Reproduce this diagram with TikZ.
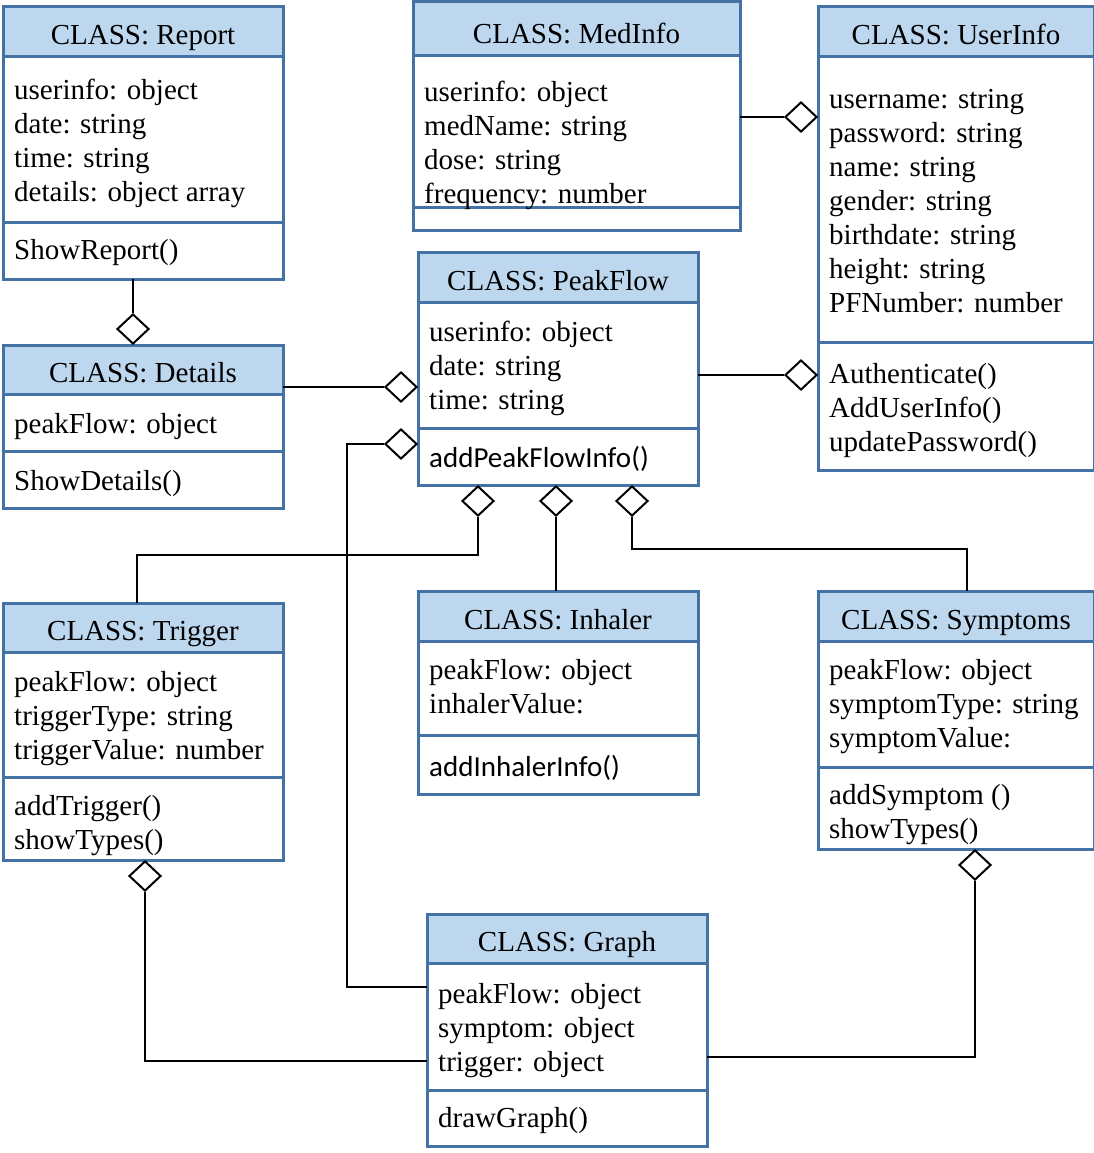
\documentclass[tikz,border=0pt]{standalone}
\usepackage{fontspec}
\setmainfont{Liberation Serif}
\newfontfamily\calibri{Carlito}
\usepackage{tikz}
\usetikzlibrary{calc,positioning,fit,shapes.geometric}
\definecolor{umlBorder}{RGB}{68,114,164}
\definecolor{umlHead}{RGB}{189,215,238}

\tikzset{
  classbox/.style={draw=umlBorder, line width=3pt, inner sep=0pt, outer sep=0pt},
  divider/.style={umlBorder, line width=3pt},
  titletext/.style={anchor=base, inner sep=0pt},
  membtext/.style={anchor=base west, inner sep=0pt, align=left},
  link/.style={black, line width=1.3pt},
  agg/.style={diamond, draw=black, fill=white, line width=2pt, inner sep=0pt,
    minimum width=32pt, minimum height=30pt},
}

% name, left, top, right, bottom, header line, middle line, title
\newcommand{\umlclass}[8]{%
  \fill[umlHead] (#2,#3) rectangle (#4,#6);
  \draw[divider] (#2,#6) -- (#4,#6) (#2,#7) -- (#4,#7);
  \node[classbox, fit={(#2,#3) (#4,#5)}] (#1) {};
  \node[titletext] (#1-t) at ({(#2+#4)/2},{#6-12}) {CLASS: #8};
}

\begin{document}
\begin{tikzpicture}[x=1pt,y=-1pt,font=\fontsize{29}{34}\selectfont]
    \useasboundingbox (0,0) rectangle (1094,1153);

    % class boxes
    \umlclass{report}{3}{7}{283}{279}{57}{222}{Report}
    \umlclass{medinfo}{413}{2}{740}{230}{56}{207}{MedInfo}
    \umlclass{userinfo}{818}{7}{1094}{470}{57}{342}{UserInfo}
    \umlclass{details}{3}{345}{283}{508}{394}{451}{Details}
    \umlclass{peakflow}{418}{252}{698}{485}{302}{428}{PeakFlow}
    \umlclass{trigger}{3}{603}{283}{860}{652}{777}{Trigger}
    \umlclass{inhaler}{418}{591}{698}{794}{641}{735}{Inhaler}
    \umlclass{symptoms}{818}{591}{1094}{849}{641}{767}{Symptoms}
    \umlclass{graphbox}{427}{914}{707}{1146}{963}{1090}{Graph}

    % attributes and methods (placed at the baseline of the last line)
    \node[membtext] (report-a) at (14,201) {userinfo: object\\date: string\\time: string\\details: object array};
    \node[membtext] (report-m) at (14,259) {ShowReport()};
    \node[membtext] (medinfo-a) at (424,203) {userinfo: object\\medName: string\\dose: string\\frequency: number};
    \node[membtext] (userinfo-a) at (829,312) {username: string\\password: string\\name: string\\gender: string\\birthdate: string\\height: string\\PFNumber: number};
    \node[membtext] (userinfo-m) at (829,451) {Authenticate()\\AddUserInfo()\\updatePassword()};
    \node[membtext] (details-a) at (14,433) {peakFlow: object};
    \node[membtext] (details-m) at (14,490) {ShowDetails()};
    \node[membtext] (peakflow-a) at (429,409) {userinfo: object\\date: string\\time: string};
    \node[membtext] (peakflow-m) at (429,467) {\calibri addPeakFlowInfo()};
    \node[membtext] (trigger-a) at (14,759) {peakFlow: object\\triggerType: string\\triggerValue: number};
    \node[membtext] (trigger-m) at (14,849) {addTrigger()\\showTypes()};
    \node[membtext] (inhaler-a) at (429,713) {peakFlow: object\\inhalerValue:};
    \node[membtext] (inhaler-m) at (429,776) {\calibri addInhalerInfo()};
    \node[membtext] (symptoms-a) at (829,747) {peakFlow: object\\symptomType: string\\symptomValue:};
    \node[membtext] (symptoms-m) at (829,838) {addSymptom ()\\showTypes()};
    \node[membtext] (graphbox-a) at (438,1071) {peakFlow: object\\symptom: object\\trigger: object};
    \node[membtext] (graphbox-m) at (438,1127) {drawGraph()};

    % aggregation diamonds
    \node[agg, anchor=south] (agg-report) at (133,345) {};
    \node[agg, anchor=east] (agg-medinfo) at (818,117) {};
    \node[agg, anchor=east] (agg-details) at (418,387) {};
    \node[agg, anchor=east] (agg-peakflow) at (818,375) {};
    \node[agg, anchor=east] (agg-graph) at (418,444) {};
    \node[agg, anchor=north] (agg-trigger) at (478,485) {};
    \node[agg, anchor=north] (agg-inhaler) at (556,485) {};
    \node[agg, anchor=north] (agg-symptoms) at (632,485) {};
    \node[agg, anchor=north] (agg-trggraph) at (145,860) {};
    \node[agg, anchor=north] (agg-symgraph) at (975,849) {};

    % links
    \draw[link] (agg-report.north) -- (agg-report.north |- report.south);
    \draw[link] (medinfo.east |- agg-medinfo) -- (agg-medinfo.west);
    \draw[link] (details.east |- agg-details) -- (agg-details.west);
    \draw[link] (peakflow.east |- agg-peakflow) -- (agg-peakflow.west);
    \draw[link] (agg-graph.west) -- (347,444) |- ($(graphbox.north west)+(0,73)$);
    \draw[link] (agg-trigger.south) -- (478,555) -| ([xshift=-6pt]trigger.north);
    \draw[link] (agg-inhaler.south) -- (agg-inhaler.south |- inhaler.north);
    \draw[link] (agg-symptoms.south) -- (632,549) -| ([xshift=11pt]symptoms.north);
    \draw[link] (agg-trggraph.south) |- ($(graphbox.north west)+(0,147)$);
    \draw[link] (agg-symgraph.south) |- ($(graphbox.north east)+(0,143)$);
\end{tikzpicture}
\end{document}
